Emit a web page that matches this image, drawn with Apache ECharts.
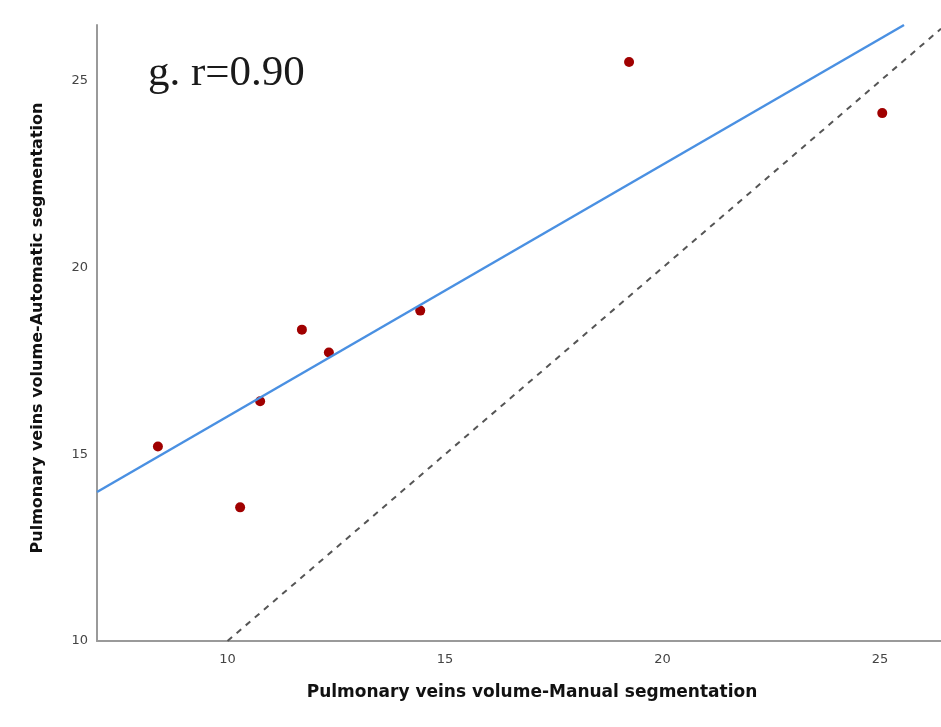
<!DOCTYPE html>
<html>
<head>
<meta charset="utf-8">
<script src="https://cdn.jsdelivr.net/npm/echarts@6/dist/echarts.min.js"></script>
<style>html,body{margin:0;padding:0;background:#fff}#c{width:941px;height:727px}</style>
</head>
<body>
<div id="c"></div>
<script>
// Data
const manualVolume = [8.40, 10.29, 10.75, 11.71, 12.33, 14.43, 19.23, 25.05];
const automaticVolume = [15.21, 13.58, 16.42, 18.34, 17.73, 18.85, 25.51, 24.14];
const fitLineX = [7.0, 25.55];
const fitLineY = [13.99, 26.5];
const identityX = [10, 26.4];
const identityY = [10, 26.4];
const xTicks = [10, 15, 20, 25];
const yTicks = [10, 15, 20, 25];
const titleText = 'g. r=0.90';
const xName = 'Pulmonary veins volume-Manual segmentation';
const yName = 'Pulmonary veins volume-Automatic segmentation';

const points = manualVolume.map((x, i) => [x, automaticVolume[i]]);
const fit = fitLineX.map((x, i) => [x, fitLineY[i]]);
const ident = identityX.map((x, i) => [x, identityY[i]]);

const chart = echarts.init(document.getElementById('c'));
chart.setOption({
  backgroundColor: '#ffffff',
  animation: false,
  title: {
    text: titleText,
    left: 143, top: 47,
    textStyle: { fontFamily: 'Liberation Serif', fontSize: 43, fontWeight: 'normal', color: '#1a1a1a' }
  },
  grid: { left: 97, right: 0, top: 25, bottom: 86, containLabel: false },
  xAxis: {
    type: 'value', min: 7, max: 26.4,
    name: xName, nameLocation: 'middle', nameGap: 43,
    nameTextStyle: { fontFamily: 'DejaVu Sans', fontSize: 17, fontWeight: 'bold', color: '#111', padding: [0, 0, 0, 26] },
    axisLine: { show: true, lineStyle: { color: '#9a9a9a', width: 2 } },
    axisTick: { show: false },
    splitLine: { show: false },
    axisLabel: { customValues: xTicks, margin: 12, fontFamily: 'DejaVu Sans', fontSize: 13, color: '#444' }
  },
  yAxis: {
    type: 'value', min: 10, max: 26.5,
    name: yName, nameLocation: 'middle', nameGap: 51, nameRotate: 90,
    nameTextStyle: { fontFamily: 'DejaVu Sans', fontSize: 16, fontWeight: 'bold', color: '#111', padding: [0, 0, 0, 10] },
    axisLine: { show: true, lineStyle: { color: '#9a9a9a', width: 2 } },
    axisTick: { show: false },
    splitLine: { show: false },
    axisLabel: { customValues: yTicks, margin: 9, fontFamily: 'DejaVu Sans', fontSize: 13, color: '#444' }
  },
  series: [
    {
      type: 'line', data: ident, symbol: 'none', silent: true,
      lineStyle: { color: '#555', width: 2, type: [6, 6] }
    },
    {
      type: 'line', data: fit, symbol: 'none', silent: true,
      lineStyle: { color: '#4a90e2', width: 2.5 }
    },
    {
      type: 'scatter', data: points, symbolSize: 10,
      itemStyle: { color: '#a00000', opacity: 1 }
    }
  ]
});
</script>
</body>
</html>
